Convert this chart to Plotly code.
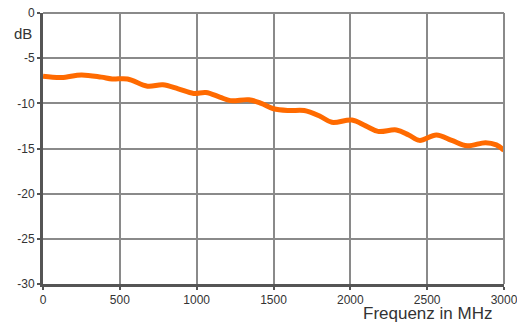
import plotly.graph_objects as go

freq = [0, 120, 250, 380, 450, 550, 680, 780, 880, 980, 1060, 1150, 1220, 1340, 1420, 1500,
        1600, 1700, 1800, 1880, 2010, 2100, 2180, 2300, 2380, 2450, 2560, 2660, 2760, 2880, 2950, 3000]
db = [-7.0, -7.15, -6.85, -7.1, -7.3, -7.3, -8.1, -7.95, -8.4, -8.9, -8.8, -9.3, -9.7, -9.6, -10.0, -10.6,
      -10.8, -10.8, -11.4, -12.1, -11.85, -12.5, -13.1, -12.95, -13.5, -14.1, -13.5, -14.1, -14.7, -14.35, -14.6, -15.2]

x_ticks = [0, 500, 1000, 1500, 2000, 2500, 3000]
y_ticks = [0, -5, -10, -15, -20, -25, -30]

fig = go.Figure()
fig.add_trace(go.Scatter(x=freq, y=db, mode="lines",
                         line=dict(color="#ff6a00", width=5, shape="spline", smoothing=1.0),
                         hoverinfo="skip", cliponaxis=False))

fig.update_layout(
    width=517, height=323,
    margin=dict(l=43, r=13, t=13, b=39, autoexpand=False),
    paper_bgcolor="white", plot_bgcolor="white",
    showlegend=False,
    font=dict(family="Liberation Sans, Arial, sans-serif", size=12, color="#333333"),
)
fig.update_xaxes(range=[0, 3000], tickvals=x_ticks, ticktext=[str(v) for v in x_ticks],
                 showgrid=True, gridcolor="#8a8a8a", gridwidth=2,
                 showline=True, linecolor="#555555", linewidth=3,
                 ticks="outside", ticklen=3, tickcolor="#555555", tickwidth=2,
                 zeroline=False, tickfont=dict(size=12), automargin=False,
                 ticklabeloverflow="allow")
fig.update_yaxes(range=[-30, 0], tickvals=y_ticks, ticktext=[str(v) for v in y_ticks],
                 showgrid=True, gridcolor="#8a8a8a", gridwidth=2,
                 showline=True, linecolor="#555555", linewidth=3,
                 ticks="outside", ticklen=3, tickcolor="#555555", tickwidth=2,
                 zeroline=False, tickfont=dict(size=12), automargin=False,
                 ticklabeloverflow="allow")

# top and right frame
fig.add_shape(type="line", xref="paper", yref="paper", x0=0, x1=1, y0=1, y1=1,
              line=dict(color="#8a8a8a", width=2))
fig.add_shape(type="line", xref="paper", yref="paper", x0=1, x1=1, y0=0, y1=1,
              line=dict(color="#8a8a8a", width=2))

fig.add_annotation(text="dB", xref="paper", yref="paper", x=-0.043, y=0.926,
                   xanchor="center", yanchor="middle", showarrow=False,
                   font=dict(size=15, color="#333333"))
fig.add_annotation(text="Frequenz in MHz", xref="paper", yref="paper", x=0.978, y=-0.0646,
                   xanchor="right", yanchor="top", showarrow=False,
                   font=dict(size=17, color="#333333"))

fig.write_html("out.html",
               config={"displayModeBar": False, "staticPlot": True},
               post_script="document.body.style.margin='0';document.body.style.overflow='hidden';")
